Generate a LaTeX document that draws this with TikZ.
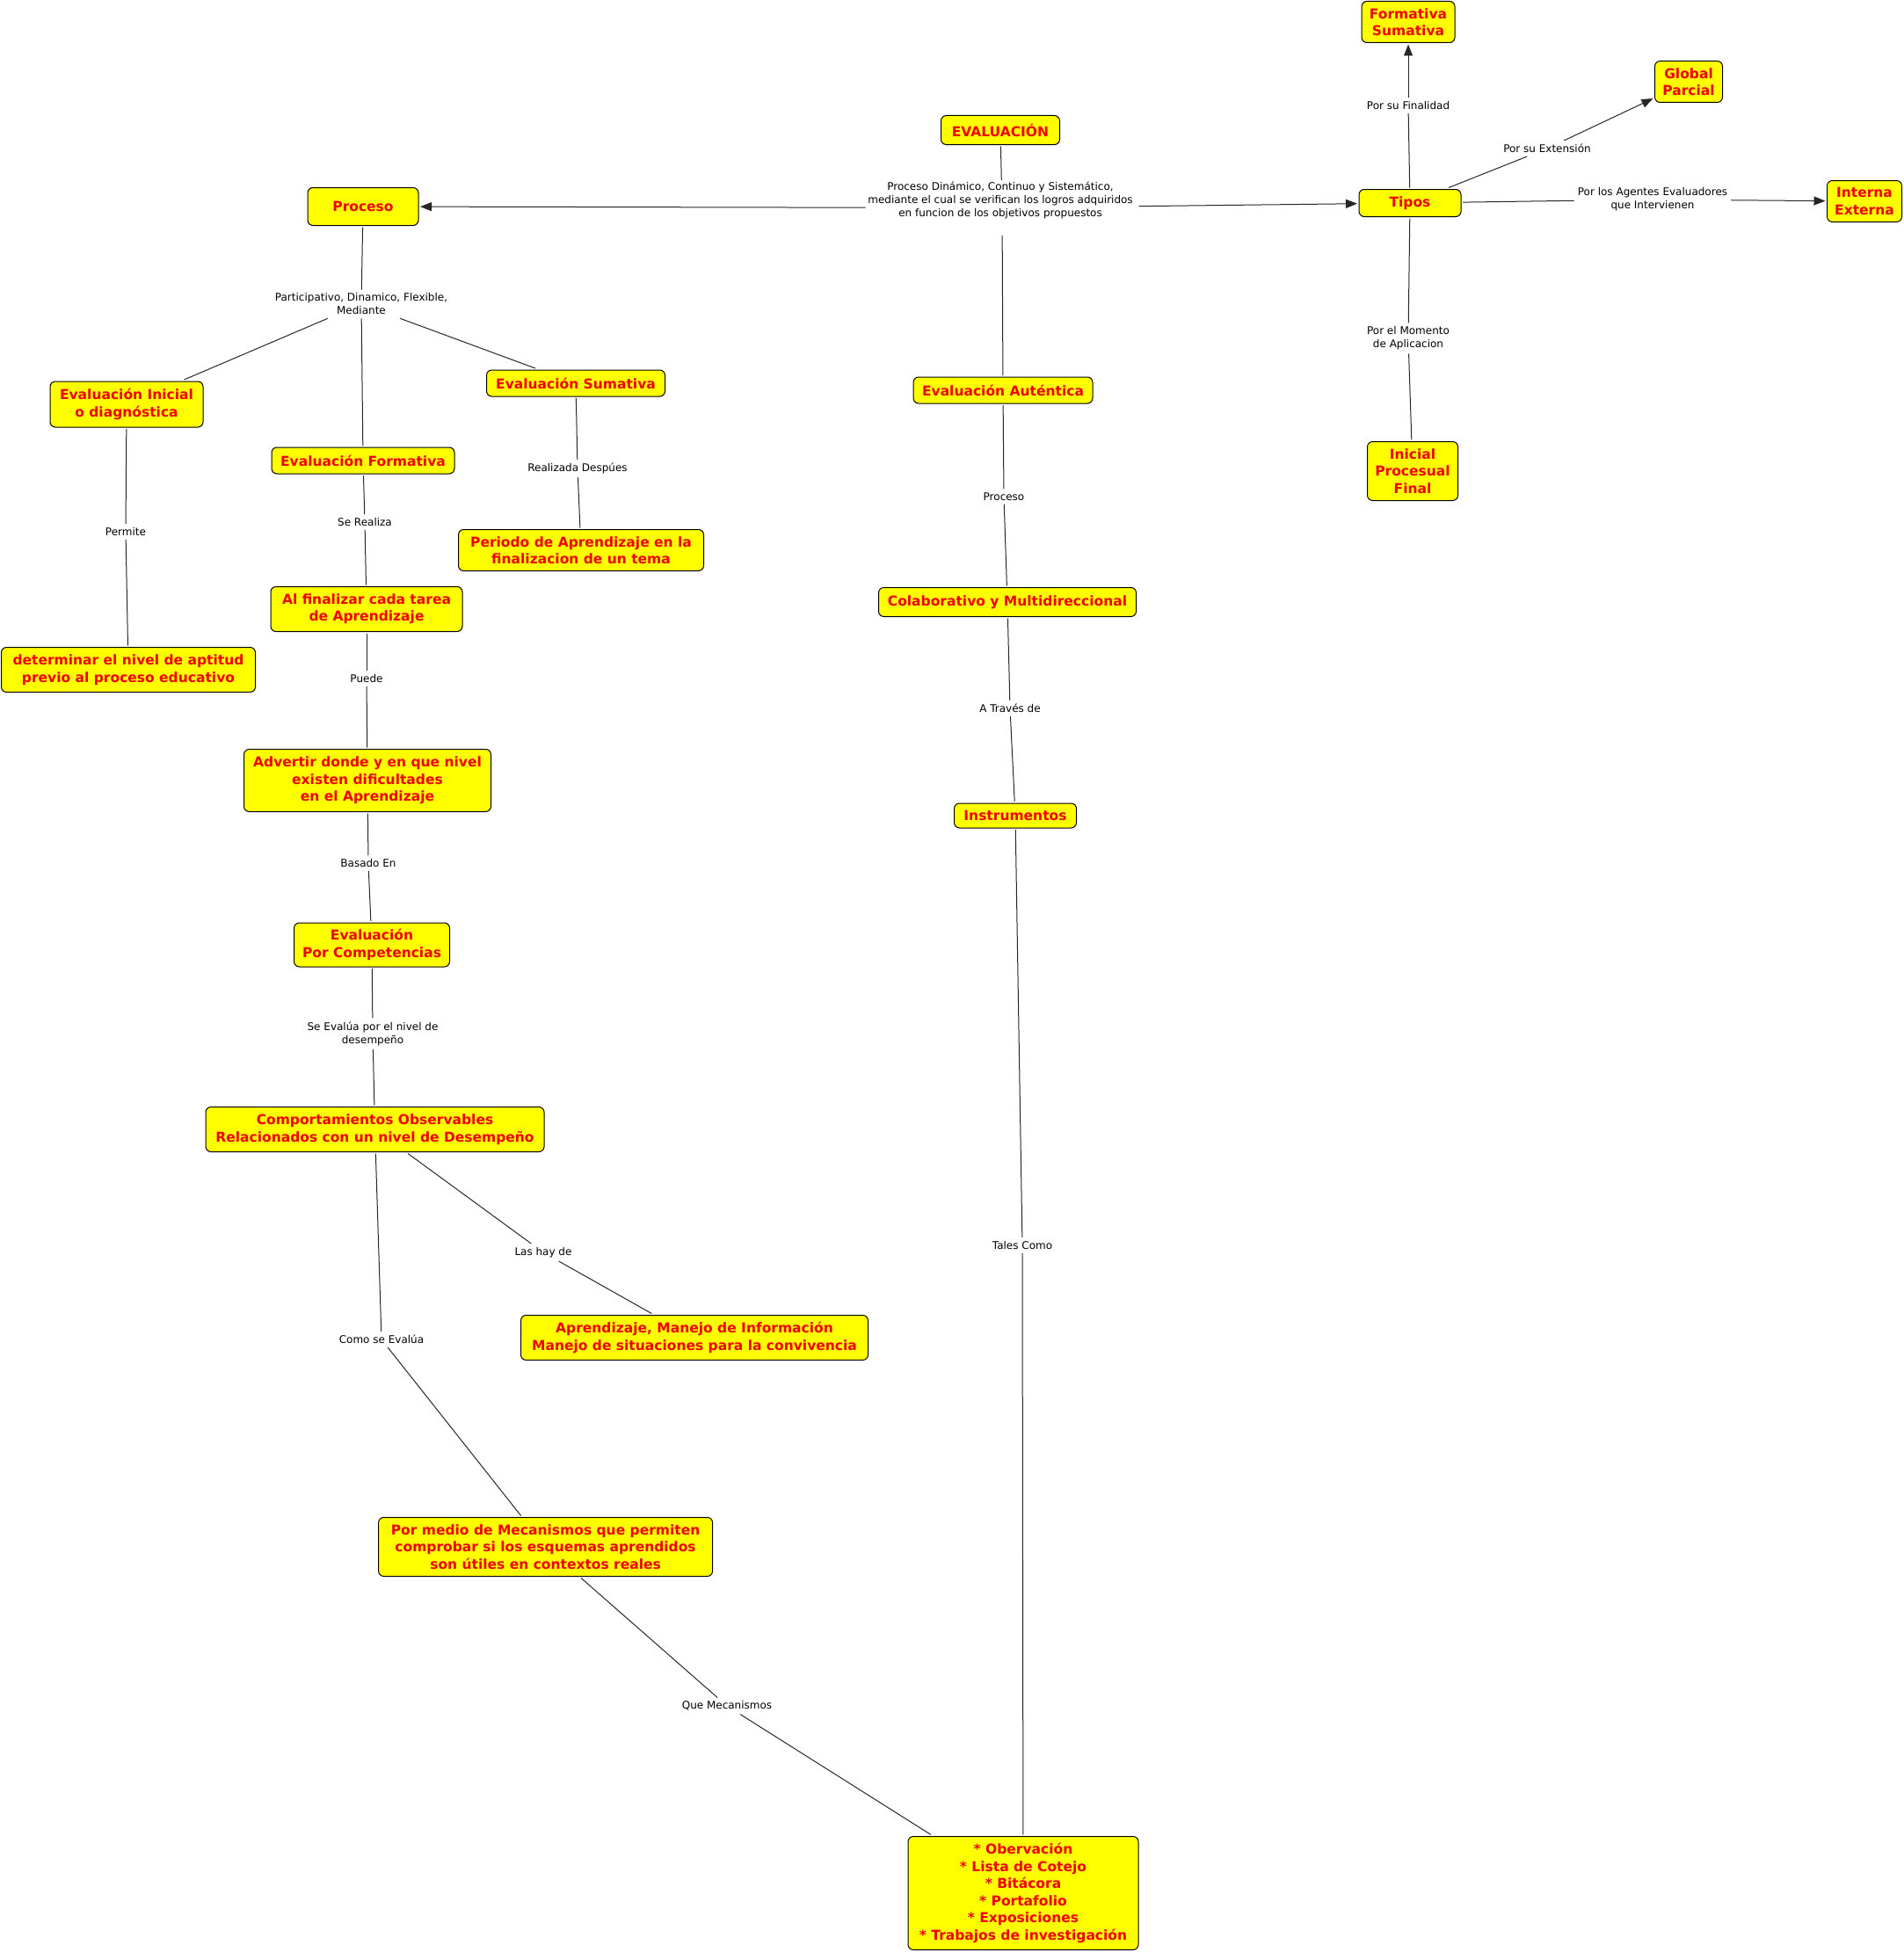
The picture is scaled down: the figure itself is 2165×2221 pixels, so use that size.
\documentclass[tikz,border=0pt]{standalone}
\usepackage{fontspec}
\setmainfont{DejaVu Sans}
\usetikzlibrary{arrows.meta}
\definecolor{cy}{RGB}{255,255,0}
\definecolor{cr}{RGB}{240,0,0}
\tikzset{
 cn/.style={draw=black, fill=cy, rounded corners=6pt, line width=1pt, text=cr,
   font=\fontsize{15.5}{19.5}\selectfont\bfseries, align=center, inner sep=2pt, outer sep=2pt},
 lb/.style={font=\fontsize{12}{15}\selectfont, align=center, inner sep=4pt, text=black},
 ln/.style={line width=1pt, draw=black!85},
 ar/.style={ln, -{Triangle[length=13pt,width=10pt]}},
}
\begin{document}
\begin{tikzpicture}[x=1pt,y=-1pt]
\useasboundingbox (0,0) rectangle (2165,2221);
% concepts
\node[cn, minimum width=106, minimum height=47] (fs) at (1602,25) {Formativa\\Sumativa};
\node[cn, minimum width=77, minimum height=47] (gp) at (1921,93) {Global\\Parcial};
\node[cn, minimum width=85, minimum height=47] (ie) at (2121,229) {Interna\\Externa};
\node[cn, minimum width=116, minimum height=31] (tipos) at (1604,231) {Tipos};
\node[cn, minimum width=103, minimum height=67] (ipf) at (1607,536) {Inicial\\Procesual\\Final};
\node[cn, minimum width=135, minimum height=33] (eval) at (1138,148) {EVALUACIÓN};
\node[cn, minimum width=126, minimum height=43] (proc) at (413,235) {Proceso};
\node[cn, minimum width=174, minimum height=52] (eini) at (144,460) {Evaluación Inicial\\o diagnóstica};
\node[cn, minimum width=208, minimum height=30] (eform) at (413,524) {Evaluación Formativa};
\node[cn, minimum width=203, minimum height=30] (esum) at (655,436) {Evaluación Sumativa};
\node[cn, minimum width=279, minimum height=47] (peri) at (661,626) {Periodo de Aprendizaje en la\\finalizacion de un tema};
\node[cn, minimum width=218, minimum height=51] (alfin) at (417,693) {Al finalizar cada tarea\\de Aprendizaje};
\node[cn, minimum width=289, minimum height=51] (deter) at (146,762) {determinar el nivel de aptitud\\previo al proceso educativo};
\node[cn, minimum width=281, minimum height=71] (adv) at (418,888) {Advertir donde y en que nivel\\existen dificultades\\en el Aprendizaje};
\node[cn, minimum width=177, minimum height=50] (ecomp) at (423,1075) {Evaluación\\Por Competencias};
\node[cn, minimum width=385, minimum height=51] (comp) at (426.5,1285) {Comportamientos Observables\\Relacionados con un nivel de Desempeño};
\node[cn, minimum width=395, minimum height=51] (apre) at (790,1522) {Aprendizaje, Manejo de Información\\Manejo de situaciones para la convivencia};
\node[cn, minimum width=380, minimum height=67] (pmed) at (620.6,1760) {Por medio de Mecanismos que permiten\\comprobar si los esquemas aprendidos\\son útiles en contextos reales};
\node[cn, minimum width=262, minimum height=129] (obs) at (1164,2154) {* Obervación\\* Lista de Cotejo\\* Bitácora\\* Portafolio\\* Exposiciones\\* Trabajos de investigación};
\node[cn, minimum width=204, minimum height=30] (eaut) at (1141,444) {Evaluación Auténtica};
\node[cn, minimum width=293, minimum height=33] (colab) at (1146,685) {Colaborativo y Multidireccional};
\node[cn, minimum width=139, minimum height=28] (instr) at (1155,928) {Instrumentos};
% labels
\node[lb] (l0t) at (1138,228) {Proceso Dinámico, Continuo y Sistemático,\\mediante el cual se verifican los logros adquiridos\\en funcion de los objetivos propuestos};
\node[inner sep=0pt, outer sep=0pt, minimum width=311, minimum height=63] (l0) at (1140,236.5) {};
\node[lb] (lfin) at (1602,120) {Por su Finalidad};
\node[lb] (lext) at (1760,169) {Por su Extensión};
\node[lb] (lage) at (1880,227) {Por los Agentes Evaluadores\\que Intervienen};
\node[lb] (lmom) at (1602,385) {Por el Momento\\de Aplicacion};
\node[lb] (lpar) at (411,346) {Participativo, Dinamico, Flexible,\\Mediante};
\node[lb] (lperm) at (143,605) {Permite};
\node[lb] (lsere) at (415,594) {Se Realiza};
\node[lb] (lrdes) at (657,533) {Realizada Despúes};
\node[lb] (lpue) at (417,772) {Puede};
\node[lb] (lbas) at (419,982) {Basado En};
\node[lb] (lsev) at (424,1176) {Se Evalúa por el nivel de\\desempeño};
\node[lb] (lhay) at (618,1425) {Las hay de};
\node[lb] (lcom) at (434,1524) {Como se Evalúa};
\node[lb] (lque) at (827,1941) {Que Mecanismos};
\node[lb] (lpro) at (1142,565) {Proceso};
\node[lb] (latr) at (1149,806) {A Través de};
\node[lb] (ltal) at (1163,1417) {Tales Como};
% connectors
\draw[ln] (eval) -- (l0);
\draw[ar] (l0) -- (proc);
\draw[ar] (l0) -- (tipos);
\draw[ln] (l0) -- (eaut);
\draw[ln] (tipos) -- (lfin); \draw[ar] (lfin) -- (fs);
\draw[ln] (tipos) -- (lext); \draw[ar] (lext) -- (gp);
\draw[ln] (tipos) -- (lage); \draw[ar] (lage) -- (ie);
\draw[ln] (tipos) -- (lmom); \draw[ln] (lmom) -- (ipf);
\draw[ln] (proc) -- (lpar);
\draw[ln] (lpar) -- (eini);
\draw[ln] (lpar) -- (eform);
\draw[ln] (lpar) -- (esum);
\draw[ln] (eini) -- (lperm); \draw[ln] (lperm) -- (deter);
\draw[ln] (eform) -- (lsere); \draw[ln] (lsere) -- (alfin);
\draw[ln] (esum) -- (lrdes); \draw[ln] (lrdes) -- (peri);
\draw[ln] (alfin) -- (lpue); \draw[ln] (lpue) -- (adv);
\draw[ln] (adv) -- (lbas); \draw[ln] (lbas) -- (ecomp);
\draw[ln] (ecomp) -- (lsev); \draw[ln] (lsev) -- (comp);
\draw[ln] (comp) -- (lhay); \draw[ln] (lhay) -- (apre);
\draw[ln] (comp) -- (lcom); \draw[ln] (lcom) -- (pmed);
\draw[ln] (pmed) -- (lque); \draw[ln] (lque) -- (obs);
\draw[ln] (eaut) -- (lpro); \draw[ln] (lpro) -- (colab);
\draw[ln] (colab) -- (latr); \draw[ln] (latr) -- (instr);
\draw[ln] (instr) -- (ltal); \draw[ln] (ltal) -- (obs);
\end{tikzpicture}
\end{document}
